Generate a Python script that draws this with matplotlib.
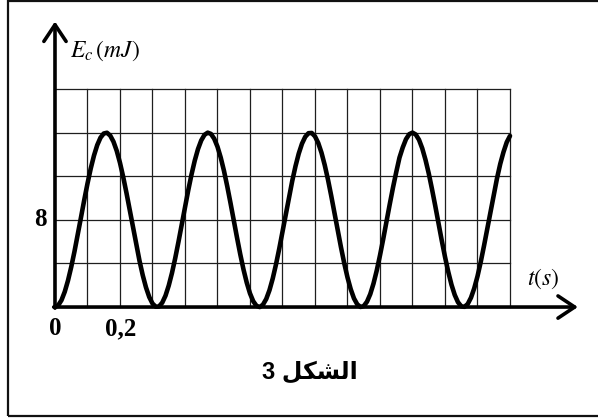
import matplotlib
matplotlib.use("Agg")
import matplotlib.pyplot as plt
from matplotlib.patches import Rectangle

# ---- data ----
t_s = [0.00, 0.01, 0.02, 0.03, 0.04, 0.05, 0.06, 0.07, 0.08, 0.09,
       0.10, 0.11, 0.12, 0.13, 0.14, 0.15, 0.16, 0.17, 0.18, 0.19,
       0.20, 0.21, 0.22, 0.23, 0.24, 0.25, 0.26, 0.27, 0.28, 0.29,
       0.30, 0.31, 0.32, 0.33, 0.34, 0.35, 0.36, 0.37, 0.38, 0.39,
       0.40, 0.41, 0.42, 0.43, 0.44, 0.45, 0.46, 0.47, 0.48, 0.49,
       0.50, 0.51, 0.52, 0.53, 0.54, 0.55, 0.56, 0.57, 0.58, 0.59,
       0.60, 0.61, 0.62, 0.63, 0.64, 0.65, 0.66, 0.67, 0.68, 0.69,
       0.70, 0.71, 0.72, 0.73, 0.74, 0.75, 0.76, 0.77, 0.78, 0.79,
       0.80, 0.81, 0.82, 0.83, 0.84, 0.85, 0.86, 0.87, 0.88, 0.89,
       0.90, 0.91, 0.92, 0.93, 0.94, 0.95, 0.96, 0.97, 0.98, 0.99,
       1.00, 1.01, 1.02, 1.03, 1.04, 1.05, 1.06, 1.07, 1.08, 1.09,
       1.10, 1.11, 1.12, 1.13, 1.14, 1.15, 1.16, 1.17, 1.18, 1.19,
       1.20, 1.21, 1.22, 1.23, 1.24, 1.25, 1.26, 1.27, 1.28, 1.29,
       1.30, 1.31, 1.32, 1.33, 1.34, 1.35, 1.36, 1.37, 1.38, 1.39,
       1.40]
Ec_mJ = [0.00, 0.16, 0.63, 1.40, 2.43, 3.68, 5.10, 6.64, 8.23, 9.82,
         11.33, 12.71, 13.90, 14.86, 15.54, 15.92, 15.99, 15.73, 15.17, 14.33,
         13.23, 11.92, 10.46, 8.90, 7.30, 5.73, 4.25, 2.92, 1.80, 0.92,
         0.32, 0.03, 0.05, 0.40, 1.04, 1.97, 3.13, 4.49, 5.99, 7.57,
         9.16, 10.71, 12.15, 13.43, 14.49, 15.29, 15.80, 16.00, 15.88, 15.44,
         14.71, 13.71, 12.49, 11.08, 9.55, 7.96, 6.38, 4.85, 3.45, 2.24,
         1.25, 0.53, 0.11, 0.00, 0.22, 0.74, 1.55, 2.62, 3.91, 5.35,
         6.91, 8.50, 10.08, 11.57, 12.92, 14.08, 14.99, 15.62, 15.95, 15.97,
         15.66, 15.05, 14.16, 13.02, 11.69, 10.20, 8.63, 7.03, 5.48, 4.02,
         2.72, 1.63, 0.79, 0.25, 0.01, 0.09, 0.49, 1.18, 2.15, 3.35,
         4.74, 6.25, 7.84, 9.43, 10.96, 12.38, 13.71, 14.64, 15.40, 15.86,
         16.00, 15.83, 15.35, 14.56, 13.51, 12.26, 10.82, 9.29, 7.70, 6.11,
         4.61, 3.24, 2.05, 1.11, 0.44, 0.07, 0.02, 0.28, 0.86, 1.72,
         2.82, 4.14, 5.61, 7.17, 8.77, 10.34, 11.80, 13.13, 14.22, 15.12,
         15.70]
grid_t = [0.1, 0.2, 0.3, 0.4, 0.5, 0.6, 0.7, 0.8, 0.9, 1.0, 1.1, 1.2, 1.3, 1.4]
grid_E = [4, 8, 12, 16, 20]
y_tick_labels = [(8, "8")]
x_tick_labels = [(0.0, "0"), (0.2, "0,2")]
caption = "3 \uFEDE\uFEDC\uFEB8\uFEDF\uFE8D"   # الشكل 3 (shaped, visual order)

plt.rcParams['mathtext.fontset'] = 'stix'

fig = plt.figure(figsize=(5.98, 4.18), dpi=100)
ax = fig.add_axes([0, 0, 1, 1])
ax.set_xlim(-0.1692, 1.6708)
ax.set_ylim(-10.18, 28.17)
ax.axis('off')

t_max = grid_t[-1]
E_max = grid_E[-1]

# grid
for gt in grid_t:
    ax.plot([gt, gt], [0, E_max], color='#1e1e1e', lw=0.9, zorder=1)
for ge in grid_E:
    ax.plot([0, t_max], [ge, ge], color='#1e1e1e', lw=0.9, zorder=1)

# axes arrows
arrow = dict(arrowstyle='->,head_length=1.2,head_width=0.8', lw=2.6,
             color='black', shrinkA=0, shrinkB=0)
ax.annotate('', xy=(1.609, 0), xytext=(-0.004, 0), arrowprops=arrow, zorder=3)
ax.annotate('', xy=(0, 26.2), xytext=(0, -0.1), arrowprops=arrow, zorder=3)

# curve
ax.plot(t_s, Ec_mJ, color='black', lw=3.3, solid_joinstyle='round',
        solid_capstyle='round', zorder=4)

# labels
serif_bold = dict(family='Liberation Serif', fontweight='bold', fontsize=18)
for val, lab in y_tick_labels:
    ax.text(-0.046, val, lab, ha='center', va='center', **serif_bold)
for val, lab in x_tick_labels:
    ax.text(val + 0.002, -2.0, lab, ha='center', va='center', **serif_bold)

ax.text(0.046, 23.0, r'$E_c\,(mJ)$', fontsize=17, ha='left', va='baseline')
ax.text(1.452, 2.6, r'$t(s)$', fontsize=17, ha='left', va='center')

ax.text(0.785, -5.96, caption, family=['Liberation Sans', 'DejaVu Sans'],
        fontweight='bold', fontsize=17, ha='center', va='center')

# frame
fig.patches.append(Rectangle((8 / 598, 2 / 418), 1.0, 415 / 418,
                             transform=fig.transFigure, fill=False,
                             edgecolor='#111111', lw=1.6))

fig.savefig('out.png', dpi=100)
